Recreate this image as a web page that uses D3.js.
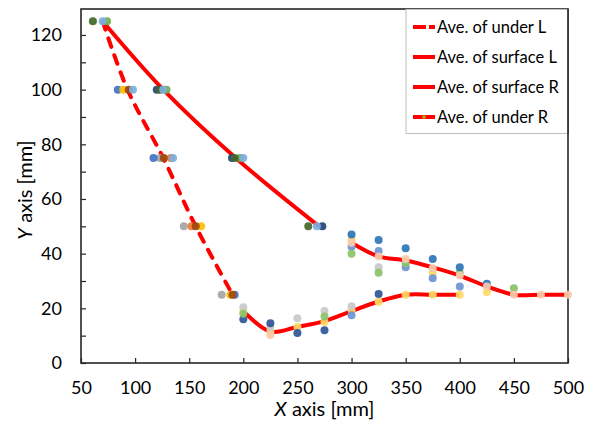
<!DOCTYPE html>
<html>
<head>
<meta charset="utf-8">
<script src="https://d3js.org/d3.v7.min.js"></script>
<style>
  body { margin: 0; background: #fff; }
  text { font-family: Lato, "Open Sans", sans-serif; fill: #000; }
</style>
</head>
<body>
<div id="chart"></div>
<script>
// mean lines
var underL   = [[70,125],[93,100],[126,75],[156,50],[190,25]];
var surfaceL = [[70,125],[126,100],[193,75],[270,50]];
var surfaceR = [[300,44],[325,39],[350,37.5],[375,35],[400,32],[425,28],[450,25],[475,25],[500,25]];
var underR   = [[200,19],[225,11.5],[250,13.2],[275,15.3],[300,19],[325,22.5],[350,25],[375,25],[400,25]];

// individual measurements, grouped by series colour
var ptsDarkGreen = [[61,125],[123,100],[192,75],[260,50]];
var ptsGreen     = [[74,125],[129,100],[197,75]];
var ptsNavy      = [[120,100],[189.5,75],[273,50]];
var ptsBlue      = [[84,100],[117,75],[192,25]];
var ptsGrey      = [[123,75],[145,50],[180,25]];
var ptsYellow    = [[89,100],[161,50],[188,25]];
var ptsOrange    = [[133,75],[152,50]];
var ptsBrown     = [[94,100],[126.5,75],[156,50],[190,25]];
var ptsLtBlue    = [[70,125],[98,100],[126,100],[135,75],[200,75],[268,50]];

var ptsBlueR   = [[300,47],[325,45],[350,42],[375,38],[400,35],[425,29]];
var ptsNavyR   = [[200,16],[225,14.5],[250,11],[275,12],[325,25.2]];
var ptsMedBlue = [[300,42.5],[325,41],[350,35],[375,31],[400,28],[300,17.5]];
var ptsLtGreen = [[300,40],[325,33],[350,36.5],[400,33],[450,27.3],[200,18],[275,17]];
var ptsLtGrey  = [[325,35],[200,20.4],[225,13],[250,16.4],[275,19],[300,20.8]];
var ptsPeach   = [[300,44],[325,39],[350,38],[375,34.7],[400,32],[425,28],[450,25],[475,25],[500,25],[225,10.2]];
var ptsLtYellow= [[300,45],[375,33],[425,26],[200,19],[225,11.5],[250,13.2],[275,15],[300,19.3],[325,22.4],[350,25],[375,25],[400,25]];

var xTicks = [50,100,150,200,250,300,350,400,450,500];
var yTicks = [0,20,40,60,80,100,120];
var yMinor = [10,30,50,70,90,110];
var legendNames = ["Ave. of under L","Ave. of surface L","Ave. of surface R","Ave. of under R"];

var scatterGroups = [
  {pts: ptsLtYellow, c: "#FFD966"},
  {pts: ptsLtGrey,   c: "#C9C9C9"},
  {pts: ptsNavyR,    c: "#2F5597"},
  {pts: ptsMedBlue,  c: "#6F93D2"},
  {pts: ptsLtGreen,  c: "#8CC168"},
  {pts: ptsBlueR,    c: "#2E75B6"},
  {pts: ptsPeach,    c: "#F8CBAD"},
  {pts: ptsGrey,     c: "#A5A5A5"},
  {pts: ptsBlue,     c: "#4472C4"},
  {pts: ptsYellow,   c: "#FFC000"},
  {pts: ptsOrange,   c: "#ED7D31"},
  {pts: ptsNavy,     c: "#264478"},
  {pts: ptsGreen,    c: "#70AD47"},
  {pts: ptsDarkGreen,c: "#43682B"},
  {pts: ptsBrown,    c: "#9E480E"},
  {pts: ptsLtBlue,   c: "#7CAFDD"}
];

var W = 602, H = 429;
var L = 81, R = 568, T = 9, B = 363;

var svg = d3.select('#chart').append('svg')
  .attr('width', W).attr('height', H);

var x = d3.scaleLinear().domain([50,500]).range([L,R]);
var y = d3.scaleLinear().domain([0,129.5]).range([B,T]);

var line = d3.line()
  .x(function(d){ return x(d[0]); })
  .y(function(d){ return y(d[1]); })
  .curve(d3.curveCatmullRom.alpha(0.5));

// axes
svg.append('g').attr('transform','translate(0,'+B+')')
  .call(d3.axisBottom(x).tickValues(xTicks).tickSize(-5).tickPadding(18).tickFormat(d3.format('d')));
svg.append('g').attr('transform','translate('+L+',0)')
  .call(d3.axisLeft(y).tickValues(yTicks).tickSize(-5).tickPadding(19).tickFormat(d3.format('d')));
svg.append('g').attr('transform','translate('+L+',0)')
  .call(d3.axisLeft(y).tickValues(yMinor).tickSize(-5).tickFormat(''));
svg.selectAll('.domain').remove();
svg.selectAll('.tick line').attr('stroke','#262626').attr('stroke-width',1.2);
svg.selectAll('.tick text').style('font-size','18px').attr('fill','#000');

svg.append('rect').attr('x',L).attr('y',T).attr('width',R-L).attr('height',B-T)
  .attr('fill','none').attr('stroke','#262626').attr('stroke-width',1.6);

// mean lines
function drawLine(data, dashed){
  svg.append('path').attr('d', line(data))
    .attr('fill','none').attr('stroke','#FF0000').attr('stroke-width',4)
    .attr('stroke-linecap', dashed ? 'round' : 'butt')
    .attr('stroke-dasharray', dashed ? '9,9' : null);
}
drawLine(underL, true);
drawLine(surfaceL, false);
drawLine(surfaceR, false);
drawLine(underR, false);

// measurement points
scatterGroups.forEach(function(g){
  svg.append('g').selectAll('circle').data(g.pts).enter().append('circle')
    .attr('cx', function(d){ return x(d[0]); })
    .attr('cy', function(d){ return y(d[1]); })
    .attr('r', 4)
    .attr('fill', g.c).attr('fill-opacity',0.92);
});

// legend
var lg = svg.append('g');
lg.append('rect').attr('x',406).attr('y',T+0.5).attr('width',R-406).attr('height',124)
  .attr('fill','#fff').attr('stroke','#BFBFBF').attr('stroke-width',1);
svg.append('line').attr('x1',R).attr('x2',R).attr('y1',T).attr('y2',T+125)
  .attr('stroke','#262626').attr('stroke-width',1.6);
var markerCol = [null,'#FF0000','#FF0000','#C09000'];
legendNames.forEach(function(n,i){
  var cy = 27 + i*30;
  var ln = lg.append('line').attr('x1',413).attr('x2',435).attr('y1',cy).attr('y2',cy)
    .attr('stroke','#FF0000').attr('stroke-width',4);
  if (i === 0) ln.attr('stroke-dasharray','13,3');
  if (markerCol[i]) lg.append('circle').attr('cx',424).attr('cy',cy).attr('r',2).attr('fill',markerCol[i]);
  lg.append('text').attr('x',437).attr('y',cy+6).style('font-size','16.5px').text(n);
});

// axis titles
var xt = svg.append('text').attr('x',(L+R)/2).attr('y',416).attr('text-anchor','middle').style('font-size','20px');
xt.append('tspan').style('font-style','italic').text('X');
xt.append('tspan').text(' axis [mm]');
var yt = svg.append('text').attr('transform','translate(32,'+((T+B)/2+4)+') rotate(-90)')
  .attr('text-anchor','middle').style('font-size','20px');
yt.append('tspan').style('font-style','italic').text('Y');
yt.append('tspan').text(' axis [mm]');
</script>
</body>
</html>
